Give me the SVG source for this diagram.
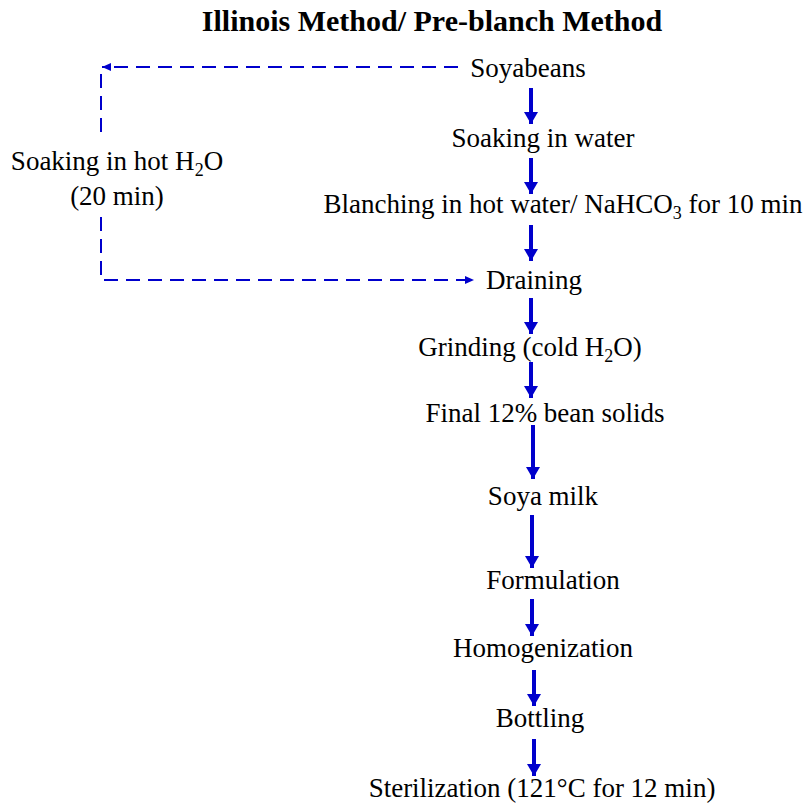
<svg xmlns="http://www.w3.org/2000/svg" width="807" height="804" viewBox="0 0 807 804">
<style>
text{font-family:"Liberation Serif","Times New Roman",serif;font-size:27px;fill:#000;}
.title{font-weight:bold;font-size:30px;}
.solid{stroke:#0000CC;stroke-width:4;fill:none;}
.dash{stroke:#0000CC;stroke-width:2;fill:none;stroke-dasharray:14 8;}
</style>
<defs>
<marker id="ah" markerUnits="userSpaceOnUse" markerWidth="14" markerHeight="14" refX="12" refY="7" orient="auto">
<path d="M0,0 L12,7 L0,14 Z" fill="#0000CC"/>
</marker>
<marker id="ahs" markerUnits="userSpaceOnUse" markerWidth="10" markerHeight="10" refX="9" refY="5" orient="auto">
<path d="M0,1 L9,5 L0,9 Z" fill="#0000CC"/>
</marker>
</defs>
<rect width="807" height="804" fill="#fff"/>
<text class="title" x="432" y="31" text-anchor="middle">Illinois Method/ Pre-blanch Method</text>
<g id="connectors">
<line class="solid" x1="531" y1="88" x2="531" y2="124" marker-end="url(#ah)"/>
<line class="solid" x1="531" y1="158" x2="531" y2="194" marker-end="url(#ah)"/>
<line class="solid" x1="531" y1="225" x2="531" y2="261" marker-end="url(#ah)"/>
<line class="solid" x1="531" y1="298" x2="531" y2="334" marker-end="url(#ah)"/>
<line class="solid" x1="531" y1="362" x2="531" y2="398" marker-end="url(#ah)"/>
<line class="solid" x1="533" y1="425" x2="533" y2="479" marker-end="url(#ah)"/>
<line class="solid" x1="532" y1="515" x2="532" y2="568" marker-end="url(#ah)"/>
<line class="solid" x1="532" y1="599" x2="532" y2="636" marker-end="url(#ah)"/>
<line class="solid" x1="534" y1="670" x2="534" y2="706" marker-end="url(#ah)"/>
<line class="solid" x1="534" y1="739" x2="534" y2="776" marker-end="url(#ah)"/>
<line class="dash" x1="458" y1="67" x2="102" y2="67" marker-end="url(#ahs)"/>
<line class="dash" x1="101" y1="74" x2="101" y2="138"/>
<path class="dash" d="M101,217 L101,280 L474,280" marker-end="url(#ahs)"/>
</g>
<g id="n-soyabeans"><text x="528" y="77" text-anchor="middle">Soyabeans</text></g>
<g id="n-soaking"><text x="543" y="147" text-anchor="middle">Soaking in water</text></g>
<g id="n-blanching"><text x="563" y="213" text-anchor="middle">Blanching in hot water/ NaHCO<tspan font-size="18" dy="6">3</tspan><tspan dy="-6"> for 10 min</tspan></text></g>
<g id="n-hotsoak"><text x="117" y="170" text-anchor="middle">Soaking in hot H<tspan font-size="18" dy="6">2</tspan><tspan dy="-6">O</tspan></text><text x="117" y="205" text-anchor="middle">(20 min)</text></g>
<g id="n-draining"><text x="534" y="289" text-anchor="middle">Draining</text></g>
<g id="n-grinding"><text x="530" y="356" text-anchor="middle">Grinding (cold H<tspan font-size="18" dy="6">2</tspan><tspan dy="-6">O)</tspan></text></g>
<g id="n-final"><text x="545" y="422" text-anchor="middle">Final 12% bean solids</text></g>
<g id="n-soyamilk"><text x="543" y="505" text-anchor="middle">Soya milk</text></g>
<g id="n-formulation"><text x="553" y="589" text-anchor="middle">Formulation</text></g>
<g id="n-homogenization"><text x="543" y="657" text-anchor="middle">Homogenization</text></g>
<g id="n-bottling"><text x="540" y="727" text-anchor="middle">Bottling</text></g>
<g id="n-sterilization"><text x="542" y="797" text-anchor="middle">Sterilization (121°C for 12 min)</text></g>
</svg>
